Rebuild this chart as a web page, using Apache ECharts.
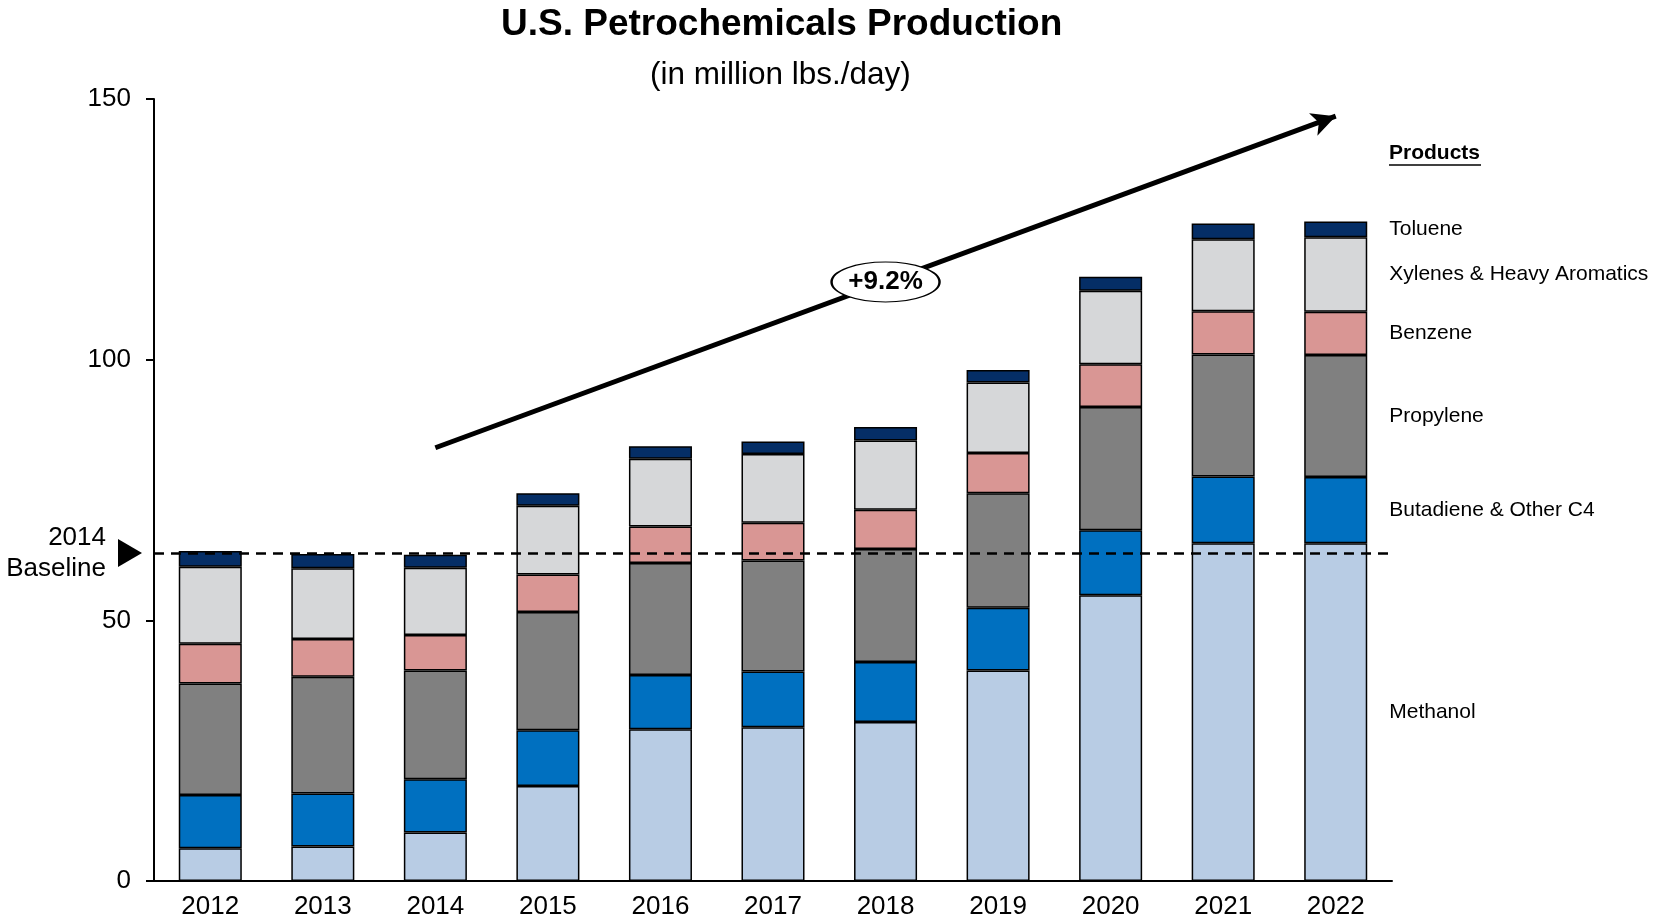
<!DOCTYPE html>
<html>
<head>
<meta charset="utf-8">
<script src="https://cdn.jsdelivr.net/npm/echarts@6/dist/echarts.min.js"></script>
<style>
  html, body { margin: 0; padding: 0; background: #fff; }
  #chart { width: 1653px; height: 923px; }
</style>
</head>
<body>
<div id="chart"></div>
<script>
const years = ['2012', '2013', '2014', '2015', '2016', '2017', '2018', '2019', '2020', '2021', '2022'];
const methanol  = [6.3, 6.6, 9.3, 18.2, 29.1, 29.5, 30.5, 40.4, 54.8, 64.8, 64.8];
const butadiene = [10.2, 10.2, 10.2, 10.7, 10.4, 10.7, 11.5, 12.0, 12.5, 12.8, 12.7];
const propylene = [21.4, 22.4, 20.9, 22.7, 21.5, 21.3, 21.7, 22.0, 23.6, 23.4, 23.4];
const benzene   = [7.6, 7.2, 6.8, 7.2, 7.0, 7.2, 7.5, 7.7, 8.2, 8.3, 8.3];
const xylenes   = [14.8, 13.6, 12.9, 13.2, 13.0, 13.2, 13.3, 13.5, 14.1, 13.8, 14.3];
const toluene   = [3.0, 2.7, 2.5, 2.4, 2.4, 2.4, 2.6, 2.4, 2.7, 3.0, 3.0];
const baseline2014 = 62.9;
const trendStart = ['2014', 83.1];
const trendEnd = ['2022', 146.7];
const trendLabel = ['2018', 114.9];

const font = 'Liberation Sans, Arial, sans-serif';
const last = years.length - 1;

function stackSeries(name, values, color) {
  return {
    name: name,
    type: 'bar',
    stack: 'total',
    barWidth: '56%',
    data: values,
    itemStyle: { color: color, borderColor: '#000', borderWidth: 1.5 },
    label: {
      show: true,
      position: 'right',
      distance: 22,
      color: '#000',
      fontSize: 21,
      fontFamily: font,
      formatter: (p) => (p.dataIndex === last ? name : '')
    },
    emphasis: { disabled: true }
  };
}

const series = [
  stackSeries('Methanol', methanol, '#b8cce4'),
  stackSeries('Butadiene & Other C4', butadiene, '#0070c0'),
  stackSeries('Propylene', propylene, '#808080'),
  stackSeries('Benzene', benzene, '#d99694'),
  stackSeries('Xylenes & Heavy Aromatics', xylenes, '#d6d7d9'),
  stackSeries('Toluene', toluene, '#052e66')
];

// dashed 2014 baseline across the plot
series[5].markLine = {
  silent: true,
  animation: false,
  symbol: 'none',
  label: { show: false },
  lineStyle: { color: '#000', width: 2.5, type: [10, 7] },
  data: [{ yAxis: baseline2014 }]
};

// growth arrow with its ellipse label
series.push({
  name: 'trend',
  type: 'line',
  data: [],
  silent: true,
  z: 10,
  markLine: {
    silent: true,
    animation: false,
    label: { show: false },
    data: [[
      { coord: trendStart, symbol: 'none',
        lineStyle: { color: '#000', width: 5, type: 'solid' } },
      { coord: trendEnd, symbol: 'arrow', symbolSize: [18, 24] }
    ]]
  },
  markPoint: {
    silent: true,
    animation: false,
    z: 12,
    data: [{
      coord: trendLabel,
      symbol: 'circle',
      symbolSize: [108, 40],
      itemStyle: { color: '#fff', borderColor: '#000', borderWidth: 1.5 },
      label: { show: true, formatter: '+9.2%', color: '#000', fontSize: 26,
               fontWeight: 'bold', fontFamily: font }
    }]
  }
});

const chart = echarts.init(document.getElementById('chart'));
chart.setOption({
  animation: false,
  textStyle: { fontFamily: font },
  title: [
    { text: 'U.S. Petrochemicals Production', left: 496, top: 1,
      textStyle: { fontSize: 37, fontWeight: 'bold', color: '#000', fontFamily: font } },
    { text: '(in million lbs./day)', left: 645, top: 54,
      textStyle: { fontSize: 31.5, fontWeight: 'normal', color: '#000', fontFamily: font } }
  ],
  grid: { left: 154, right: 261, top: 99, bottom: 42 },
  xAxis: {
    type: 'category',
    data: years,
    axisLine: { lineStyle: { color: '#000', width: 2 } },
    axisTick: { show: false },
    axisLabel: { color: '#000', fontSize: 26, margin: 13, fontFamily: font }
  },
  yAxis: {
    type: 'value',
    min: 0,
    max: 150,
    interval: 50,
    axisLine: { show: true, lineStyle: { color: '#000', width: 2 } },
    axisTick: { show: true, length: 8, lineStyle: { color: '#000', width: 2 } },
    axisLabel: { color: '#000', fontSize: 26, margin: 23, fontFamily: font },
    splitLine: { show: false }
  },
  series: series
});

// baseline marker and legend heading
const by = chart.convertToPixel({ yAxisIndex: 0 }, baseline2014);
chart.setOption({
  graphic: [
    { type: 'polygon', shape: { points: [[118, by - 14], [142, by], [118, by + 14]] },
      style: { fill: '#000' } },
    { type: 'text', x: 106, y: by,
      style: { text: '2014\nBaseline', align: 'right', verticalAlign: 'middle',
               fontSize: 26, lineHeight: 31, fill: '#000', fontFamily: font } },
    { type: 'text', x: 1389, y: 153,
      style: { text: 'Products', verticalAlign: 'middle', fontSize: 21,
               fontWeight: 'bold', fill: '#000', fontFamily: font } },
    { type: 'line', shape: { x1: 1389, y1: 165, x2: 1481, y2: 165 },
      style: { stroke: '#000', lineWidth: 1.5 } }
  ]
});
</script>
</body>
</html>
